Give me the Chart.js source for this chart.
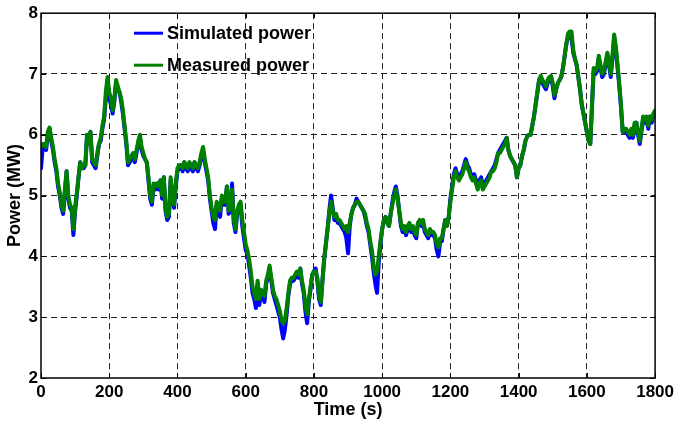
<!DOCTYPE html>
<html>
<head>
<meta charset="utf-8">
<script src="https://cdn.jsdelivr.net/npm/chart.js@4.4.0/dist/chart.umd.min.js"></script>
<style>
  html, body { margin: 0; padding: 0; background: #fff; }
  #wrap { width: 678px; height: 423px; position: relative; }
</style>
</head>
<body>
<div id="wrap"><canvas id="power-chart" width="678" height="423"></canvas></div>
<script>
/* =============================================
   DATA (one value every 5 s)
   ============================================= */
const TIME_STEP_S = 5;
const X_TICKS = [0, 200, 400, 600, 800, 1000, 1200, 1400, 1600, 1800];
const Y_TICKS = [2, 3, 4, 5, 6, 7, 8];

// Simulated power (MW)
const SIMULATED_MW = [
  5.45,5.8,5.85,5.75,6.0,6.1,5.9,5.75,5.55,5.4,5.15,5.0,4.8,4.7,5.05,5.4,4.95,4.8,4.75,4.35,
  4.75,5.0,5.3,5.55,5.45,5.45,5.5,6.0,5.85,6.05,5.55,5.5,5.45,5.65,5.85,5.9,6.1,6.25,6.6,6.9,
  6.6,6.5,6.35,6.55,6.85,6.75,6.7,6.55,6.35,6.1,5.85,5.5,5.55,5.6,5.65,5.55,5.7,5.85,5.95,5.75,
  5.65,5.6,5.55,5.25,4.95,4.85,5.15,5.1,5.2,5.1,5.25,4.95,5.3,4.75,4.6,4.65,5.25,4.95,4.8,5.15,
  5.4,5.45,5.5,5.4,5.55,5.45,5.4,5.5,5.45,5.4,5.55,5.45,5.4,5.5,5.65,5.75,5.55,5.4,5.25,4.95,
  4.75,4.55,4.45,4.85,4.75,4.65,4.95,4.85,4.85,5.15,4.7,4.75,5.2,4.55,4.4,4.7,4.8,4.85,4.5,4.3,
  4.1,4.05,3.85,3.65,3.4,3.3,3.15,3.55,3.2,3.4,3.35,3.25,3.55,3.65,3.8,3.6,3.4,3.3,3.2,3.1,
  3.0,2.8,2.65,2.8,3.05,3.35,3.55,3.6,3.6,3.65,3.7,3.65,3.8,3.55,3.4,3.1,2.9,3.25,3.45,3.7,
  3.75,3.8,3.6,3.3,3.2,3.6,3.95,4.2,4.45,4.75,5.0,4.8,4.6,4.65,4.55,4.55,4.5,4.45,4.4,4.3,
  4.05,4.5,4.7,4.8,4.85,4.95,4.9,4.85,4.8,4.75,4.65,4.5,4.4,4.2,4.0,3.75,3.55,3.4,3.9,4.2,
  4.45,4.6,4.65,4.55,4.5,4.7,4.9,5.05,5.15,5.0,4.75,4.5,4.4,4.45,4.35,4.45,4.5,4.4,4.45,4.35,
  4.3,4.55,4.55,4.5,4.55,4.4,4.35,4.3,4.4,4.35,4.35,4.3,4.1,4.0,4.25,4.25,4.45,4.6,4.5,4.65,
  4.95,5.15,5.35,5.45,5.35,5.3,5.35,5.4,5.5,5.6,5.5,5.45,5.35,5.3,5.35,5.25,5.15,5.25,5.3,5.15,
  5.2,5.25,5.3,5.35,5.4,5.45,5.5,5.6,5.7,5.75,5.8,5.85,5.9,5.95,5.75,5.65,5.6,5.55,5.5,5.3,
  5.45,5.5,5.65,5.75,5.9,5.97,6.0,6.0,6.15,6.3,6.5,6.7,6.9,6.95,6.85,6.8,6.75,6.85,6.9,6.95,
  6.8,6.6,6.75,6.85,6.9,6.95,7.1,7.3,7.5,7.6,7.65,7.6,7.35,7.25,7.15,6.95,6.75,6.5,6.35,6.2,
  6.05,5.9,5.85,6.45,7.05,7.0,7.05,7.25,7.1,6.95,7.0,7.15,7.3,7.15,6.95,7.25,7.6,7.4,7.1,6.8,
  6.45,6.05,6.05,6.05,6.0,5.95,6.05,5.95,6.15,6.2,6.0,5.85,6.05,6.25,6.2,6.25,6.1,6.3,6.2,6.3,6.35
];

// Measured power (MW)
const MEASURED_MW = [
  5.8,5.85,5.85,5.8,6.05,6.12,5.95,5.8,5.6,5.45,5.2,5.05,4.85,4.75,5.1,5.4,5.0,4.85,4.8,4.45,
  4.8,5.05,5.3,5.55,5.45,5.5,5.5,6.0,5.85,6.05,5.6,5.55,5.5,5.7,5.85,5.95,6.15,6.3,6.7,6.95,
  6.7,6.6,6.4,6.6,6.9,6.8,6.7,6.6,6.4,6.15,5.9,5.55,5.6,5.65,5.7,5.6,5.75,5.9,6.0,5.8,
  5.7,5.6,5.55,5.3,5.0,4.9,5.2,5.15,5.2,5.15,5.25,5.0,5.3,4.8,4.65,4.7,5.3,5.0,4.85,5.2,
  5.45,5.5,5.5,5.45,5.55,5.5,5.45,5.55,5.5,5.45,5.55,5.5,5.45,5.55,5.7,5.8,5.6,5.45,5.3,5.0,
  4.8,4.65,4.6,4.9,4.8,4.75,5.0,4.9,4.9,5.15,4.75,4.8,5.1,4.6,4.45,4.75,4.85,4.9,4.6,4.4,
  4.2,4.1,3.95,3.75,3.5,3.4,3.3,3.6,3.3,3.45,3.4,3.35,3.6,3.7,3.85,3.65,3.45,3.35,3.3,3.2,
  3.1,2.95,2.9,2.95,3.15,3.4,3.6,3.65,3.65,3.7,3.75,3.7,3.8,3.6,3.45,3.2,3.05,3.3,3.5,3.7,
  3.75,3.75,3.65,3.35,3.25,3.6,3.95,4.2,4.45,4.7,4.9,4.75,4.65,4.7,4.6,4.6,4.55,4.5,4.45,4.5,
  4.4,4.55,4.7,4.8,4.85,4.9,4.9,4.85,4.8,4.75,4.7,4.55,4.45,4.25,4.1,3.85,3.7,3.75,4.0,4.25,
  4.45,4.6,4.65,4.55,4.5,4.7,4.85,5.0,5.1,4.95,4.75,4.55,4.45,4.5,4.4,4.5,4.55,4.45,4.5,4.4,
  4.35,4.55,4.6,4.55,4.6,4.45,4.4,4.35,4.45,4.4,4.4,4.35,4.2,4.15,4.3,4.3,4.45,4.6,4.5,4.65,
  4.9,5.1,5.3,5.4,5.3,5.25,5.3,5.35,5.45,5.55,5.45,5.4,5.3,5.25,5.3,5.2,5.1,5.2,5.25,5.1,
  5.15,5.2,5.25,5.3,5.4,5.4,5.45,5.55,5.7,5.7,5.75,5.8,5.85,5.95,5.75,5.65,5.6,5.55,5.5,5.3,
  5.45,5.5,5.65,5.75,5.9,5.97,6.0,6.0,6.15,6.3,6.5,6.7,6.9,6.97,6.9,6.85,6.8,6.9,6.95,6.97,
  6.85,6.65,6.75,6.85,6.9,6.97,7.1,7.3,7.5,7.67,7.7,7.7,7.4,7.25,7.15,6.95,6.75,6.5,6.35,6.2,
  6.05,5.9,5.85,6.5,7.1,7.05,7.1,7.3,7.15,7.0,7.05,7.2,7.35,7.2,7.0,7.3,7.65,7.45,7.15,6.85,
  6.5,6.05,6.1,6.1,6.05,6.0,6.1,6.0,6.2,6.2,6.05,5.9,6.1,6.3,6.25,6.3,6.15,6.3,6.25,6.35,6.4
];

/* =============================================
   HELPERS
   ============================================= */
const FAMILY = '"Liberation Sans", Arial, sans-serif';
const TICK_FONT  = { family: FAMILY, size: 17, weight: 'bold' };
const TITLE_FONT = { family: FAMILY, size: 18, weight: 'bold' };

/** Pair each value with its time stamp */
function toPoints(values) {
  return values.map((v, i) => ({ x: i * TIME_STEP_S, y: v }));
}

/** Frame, inward tick marks and legend inside the axes */
const framePlugin = {
  id: 'frame',
  afterDraw(chart) {
    const { ctx, chartArea: a, scales } = chart;
    ctx.save();
    ctx.strokeStyle = '#000';
    ctx.lineWidth = 1.5;
    ctx.setLineDash([]);
    ctx.strokeRect(a.left, a.top, a.right - a.left, a.bottom - a.top);

    // small inward ticks like the reference
    ctx.lineWidth = 1;
    ctx.beginPath();
    X_TICKS.forEach(v => {
      const px = Math.round(scales.x.getPixelForValue(v)) + 0.5;
      ctx.moveTo(px, a.bottom); ctx.lineTo(px, a.bottom - 5);
      ctx.moveTo(px, a.top);    ctx.lineTo(px, a.top + 5);
    });
    Y_TICKS.forEach(v => {
      const py = Math.round(scales.y.getPixelForValue(v)) + 0.5;
      ctx.moveTo(a.left, py);  ctx.lineTo(a.left + 5, py);
      ctx.moveTo(a.right, py); ctx.lineTo(a.right - 5, py);
    });
    ctx.stroke();

    // legend, top left inside the axes
    ctx.font = `bold 18px ${FAMILY}`;
    ctx.textBaseline = 'middle';
    ctx.textAlign = 'left';
    chart.data.datasets.forEach((ds, i) => {
      const y = a.top + 20 + i * 32;
      ctx.strokeStyle = ds.borderColor;
      ctx.lineWidth = 3;
      ctx.beginPath();
      ctx.moveTo(a.left + 93, y);
      ctx.lineTo(a.left + 122, y);
      ctx.stroke();
      ctx.fillStyle = '#000';
      ctx.fillText(ds.label, a.left + 126, y + 1);
    });
    ctx.restore();
  }
};

/* =============================================
   CHART
   ============================================= */
const ctx = document.getElementById('power-chart').getContext('2d');

new Chart(ctx, {
  type: 'line',
  data: {
    datasets: [
      {
        label: 'Simulated power',
        data: toPoints(SIMULATED_MW),
        borderColor: '#0000ff',
        borderWidth: 4,
        borderJoinStyle: 'round',
        borderCapStyle: 'round',
        pointRadius: 0,
        order: 1
      },
      {
        label: 'Measured power',
        data: toPoints(MEASURED_MW),
        borderColor: '#008000',
        borderWidth: 4,
        borderJoinStyle: 'round',
        borderCapStyle: 'round',
        pointRadius: 0,
        order: 0
      }
    ]
  },
  options: {
    responsive: false,
    animation: false,
    layout: { padding: { top: 5, right: 20, left: 0, bottom: 0 } },
    plugins: { legend: { display: false }, tooltip: { enabled: false } },
    scales: {
      x: {
        type: 'linear',
        min: 0, max: 1800,
        afterFit: s => { s.height = 45; },
        afterBuildTicks: s => { s.ticks = X_TICKS.map(v => ({ value: v })); },
        ticks: { color: '#000', font: TICK_FONT, padding: 4, maxRotation: 0, callback: v => String(v) },
        grid: {
          color: c => (c.tick && (c.tick.value === 0 || c.tick.value === 1800)) ? 'rgba(0,0,0,0)' : '#222',
          lineWidth: 1, drawTicks: false
        },
        border: { display: false, dash: [6, 4] },
        title: { display: true, text: 'Time (s)', color: '#000', font: TITLE_FONT, padding: { top: 0, bottom: 2 } }
      },
      y: {
        min: 2, max: 8,
        afterFit: s => { s.width = 41; },
        afterBuildTicks: s => { s.ticks = Y_TICKS.map(v => ({ value: v })); },
        ticks: { color: '#000', font: TICK_FONT, padding: 3, callback: v => String(v) },
        grid: {
          color: c => (c.tick && (c.tick.value === 2 || c.tick.value === 8)) ? 'rgba(0,0,0,0)' : '#222',
          lineWidth: 1, drawTicks: false
        },
        border: { display: false, dash: [6, 4] },
        title: { display: true, text: 'Power (MW)', color: '#000', font: TITLE_FONT, padding: { top: 4, bottom: 0 } }
      }
    }
  },
  plugins: [framePlugin]
});
</script>
</body>
</html>
